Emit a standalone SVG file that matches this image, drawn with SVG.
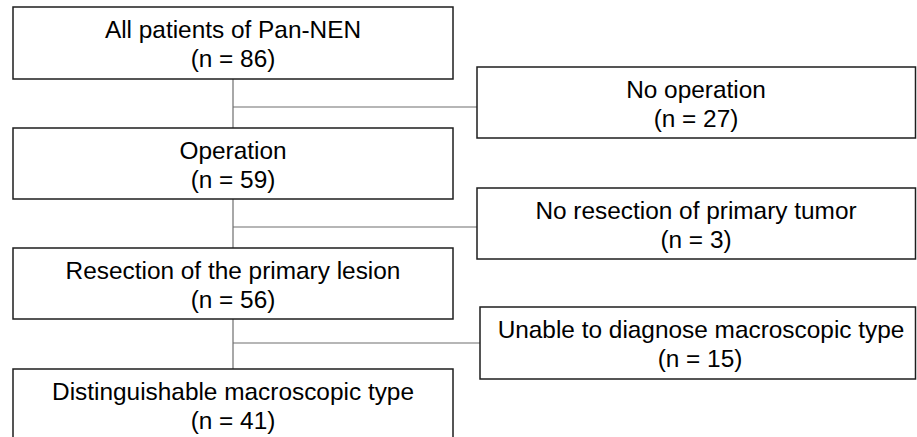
<svg xmlns="http://www.w3.org/2000/svg" width="917" height="437" viewBox="0 0 917 437">
<style>
.box{fill:#fff;stroke:#1e1e1e;stroke-width:1.5}
.t{font-family:"Liberation Sans",Arial,sans-serif;font-size:24.4px;fill:#000;text-anchor:middle}
.c{stroke:#6e6e6e;stroke-width:1.2;fill:none}
</style>
<rect width="917" height="437" fill="#fff"/>
<g id="connectors">
<line class="c" x1="233" y1="79" x2="233" y2="128"/>
<line class="c" x1="233" y1="107" x2="477" y2="107"/>
<line class="c" x1="233" y1="199" x2="233" y2="248"/>
<line class="c" x1="233" y1="227" x2="477" y2="227"/>
<line class="c" x1="233" y1="319" x2="233" y2="369"/>
<line class="c" x1="233" y1="343" x2="480" y2="343"/>
</g>
<g id="n1"><rect class="box" x="13" y="7" width="440" height="72"/><text class="t" x="233" y="37.5">All patients of Pan-NEN</text><text class="t" x="233" y="66.5">(n = 86)</text></g>
<g id="n2"><rect class="box" x="477" y="67" width="438.5" height="71"/><text class="t" x="696" y="97.5">No operation</text><text class="t" x="696" y="126.5">(n = 27)</text></g>
<g id="n3"><rect class="box" x="13" y="128" width="440" height="71"/><text class="t" x="233" y="158.5">Operation</text><text class="t" x="233" y="187.5">(n = 59)</text></g>
<g id="n4"><rect class="box" x="477" y="188" width="438.5" height="71"/><text class="t" x="696" y="218.5">No resection of primary tumor</text><text class="t" x="696" y="247.5">(n = 3)</text></g>
<g id="n5"><rect class="box" x="13" y="248" width="440" height="71"/><text class="t" x="233" y="278.5">Resection of the primary lesion</text><text class="t" x="233" y="307.5">(n = 56)</text></g>
<g id="n6"><rect class="box" x="480" y="307" width="435.5" height="72"/><text class="t" x="701" y="337.5">Unable to diagnose macroscopic type</text><text class="t" x="700" y="366.5">(n = 15)</text></g>
<g id="n7"><rect class="box" x="13" y="369" width="440" height="75"/><text class="t" x="233" y="399.5">Distinguishable macroscopic type</text><text class="t" x="233" y="428.5">(n = 41)</text></g>
</svg>
